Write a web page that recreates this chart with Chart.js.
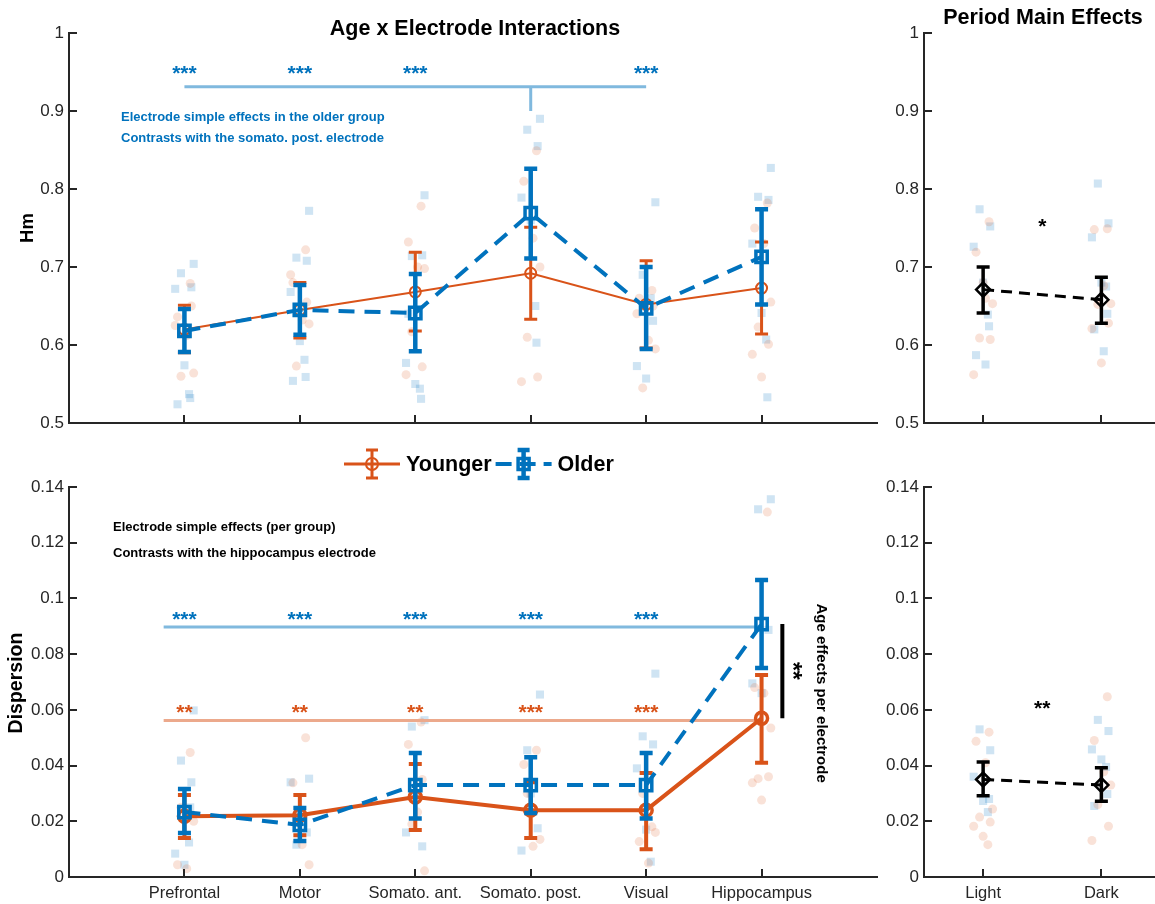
<!DOCTYPE html>
<html>
<head>
<meta charset="utf-8">
<script src="https://cdn.jsdelivr.net/npm/chart.js@4/dist/chart.umd.min.js"></script>
<style>
  html, body { margin: 0; padding: 0; background: #fff; overflow: hidden; width: 1155px; height: 904px; }
  canvas { position: absolute; }
</style>
</head>
<body>
<canvas id="hmElec" width="890" height="440" style="left:0;top:0"></canvas>
<canvas id="dispElec" width="890" height="464" style="left:0;top:440px"></canvas>
<canvas id="hmPeriod" width="290" height="440" style="left:880px;top:0"></canvas>
<canvas id="dispPeriod" width="290" height="464" style="left:880px;top:440px"></canvas>
<script>
// ── Data ────────────────────────────────────────────────────────────────
const CATS = ['Prefrontal', 'Motor', 'Somato. ant.', 'Somato. post.', 'Visual', 'Hippocampus'];
const PERIODS = ['Light', 'Dark'];
const HM_TICKS = [0.5, 0.6, 0.7, 0.8, 0.9, 1];
const DISP_TICKS = [0, 0.02, 0.04, 0.06, 0.08, 0.1, 0.12, 0.14];

// Hm, electrode x age (means and CI bounds)
const HM_YOUNG_MEAN = [0.620, 0.645, 0.668, 0.692, 0.652, 0.673];
const HM_YOUNG_HI   = [0.651, 0.680, 0.719, 0.751, 0.708, 0.732];
const HM_YOUNG_LO   = [0.590, 0.609, 0.618, 0.633, 0.596, 0.614];
const HM_OLD_MEAN   = [0.618, 0.645, 0.641, 0.769, 0.647, 0.713];
const HM_OLD_HI     = [0.646, 0.677, 0.691, 0.826, 0.700, 0.774];
const HM_OLD_LO     = [0.591, 0.613, 0.592, 0.711, 0.595, 0.652];

// Dispersion, electrode x age
const DISP_YOUNG_MEAN = [0.0218, 0.0222, 0.0287, 0.0240, 0.0240, 0.0570];
const DISP_YOUNG_HI   = [0.0294, 0.0294, 0.0406, 0.0340, 0.0373, 0.0725];
const DISP_YOUNG_LO   = [0.0140, 0.0150, 0.0169, 0.0140, 0.0100, 0.0410];
const DISP_OLD_MEAN   = [0.0233, 0.0187, 0.0330, 0.0330, 0.0330, 0.0908];
const DISP_OLD_HI     = [0.0316, 0.0248, 0.0445, 0.0430, 0.0445, 0.1066];
const DISP_OLD_LO     = [0.0158, 0.0129, 0.0210, 0.0230, 0.0210, 0.0750];

// individual animals (per electrode)
const HM_YOUNG_PTS = [
  [0.679, 0.636, 0.612, 0.564, 0.560, 0.650, 0.625],
  [0.722, 0.680, 0.632, 0.627, 0.573, 0.655, 0.690],
  [0.778, 0.732, 0.700, 0.698, 0.617, 0.572, 0.562],
  [0.849, 0.810, 0.737, 0.700, 0.610, 0.559, 0.553],
  [0.670, 0.660, 0.606, 0.595, 0.545, 0.650, 0.640],
  [0.782, 0.750, 0.730, 0.655, 0.623, 0.601, 0.588, 0.559],
];
const HM_OLD_PTS = [
  [0.704, 0.692, 0.674, 0.672, 0.574, 0.537, 0.532, 0.524, 0.620],
  [0.772, 0.712, 0.708, 0.668, 0.605, 0.581, 0.559, 0.554],
  [0.792, 0.714, 0.715, 0.577, 0.550, 0.544, 0.531, 0.640],
  [0.890, 0.876, 0.855, 0.789, 0.760, 0.650, 0.603],
  [0.783, 0.690, 0.631, 0.573, 0.557, 0.660],
  [0.827, 0.790, 0.786, 0.730, 0.641, 0.607, 0.533],
];
const DISP_YOUNG_PTS = [
  [0.0447, 0.0044, 0.0030, 0.0200, 0.0250],
  [0.0500, 0.0338, 0.0116, 0.0044, 0.0200],
  [0.0556, 0.0476, 0.0233, 0.0022, 0.0190, 0.0350],
  [0.0455, 0.0404, 0.0110, 0.0135, 0.0300],
  [0.0180, 0.0127, 0.0050, 0.0160, 0.0300],
  [0.1310, 0.0680, 0.0660, 0.0535, 0.0353, 0.0360, 0.0338, 0.0276],
];
const DISP_OLD_PTS = [
  [0.0598, 0.0418, 0.0340, 0.0084, 0.0044, 0.0124, 0.0250],
  [0.0353, 0.0116, 0.0160, 0.0340, 0.0220],
  [0.0563, 0.0540, 0.0110, 0.0160, 0.0300],
  [0.0655, 0.0455, 0.0175, 0.0095, 0.0300],
  [0.0730, 0.0505, 0.0476, 0.0390, 0.0170, 0.0055],
  [0.1356, 0.1320, 0.0887, 0.0695, 0.0660],
];

// Period main effects
const PER_HM_MEAN = [0.671, 0.658];
const PER_HM_HI   = [0.700, 0.687];
const PER_HM_LO   = [0.641, 0.628];
const PER_DISP_MEAN = [0.0350, 0.0330];
const PER_DISP_HI   = [0.0413, 0.0392];
const PER_DISP_LO   = [0.0292, 0.0272];
const PER_HM_YOUNG_PTS = [
  [0.758, 0.719, 0.660, 0.653, 0.609, 0.607, 0.562, 0.680],
  [0.749, 0.748, 0.676, 0.653, 0.652, 0.628, 0.621, 0.577],
];
const PER_HM_OLD_PTS = [
  [0.774, 0.752, 0.726, 0.680, 0.639, 0.624, 0.587, 0.575],
  [0.807, 0.756, 0.738, 0.680, 0.675, 0.640, 0.620, 0.592],
];
const PER_DISP_YOUNG_PTS = [
  [0.0520, 0.0487, 0.0410, 0.0244, 0.0215, 0.0197, 0.0182, 0.0146, 0.0116],
  [0.0647, 0.0490, 0.0378, 0.0330, 0.0260, 0.0182, 0.0131],
];
const PER_DISP_OLD_PTS = [
  [0.0530, 0.0455, 0.0360, 0.0273, 0.0233, 0.0280],
  [0.0564, 0.0524, 0.0458, 0.0422, 0.0395, 0.0298, 0.0255],
];

// significance brackets (data units)
const HM_SIG_CATS = [1, 2, 3, 5];        // *** vs somato. post.
const HM_SIG_REF = 4;
const HM_SIG_LEVEL = 0.931;
const HM_SIG_DROP = 0.900;
const HM_STAR_Y = 0.953;
const DISP_SIG_OLD_LEVEL = 0.0897;
const DISP_SIG_YOUNG_LEVEL = 0.0562;
const DISP_SIG_START = 0.82;
const DISP_OLD_STARS = ['***', '***', '***', '***', '***'];
const DISP_YOUNG_STARS = ['**', '**', '**', '***', '***'];
const DISP_OLD_STAR_Y = 0.0940;
const DISP_YOUNG_STAR_Y = 0.0607;
const AGE_BAR_X = 6.18;

// fixed spread of individual points around each category (not random)
const JITTER = [0.05, -0.06, 0.02, 0.08, -0.03, 0.06, -0.08, 0.0, 0.04];

// ── Styling ─────────────────────────────────────────────────────────────
const ORANGE = '#D95319';
const BLUE = '#0072BD';
const ORANGE_PALE = 'rgba(217,83,25,0.17)';
const BLUE_PALE = 'rgba(0,114,189,0.19)';
const SIG_BLUE = '#80B9DE';
const SIG_ORANGE = '#ECA98C';
const AXIS = '#262626';
const FONT = "'Liberation Sans', Arial, Helvetica, sans-serif";

// ── Helpers ─────────────────────────────────────────────────────────────
function jittered(groups, shift) {
  const out = [];
  groups.forEach((vals, i) => vals.forEach((v, k) => {
    out.push({ x: i + 1 + JITTER[(k + shift) % JITTER.length], y: v });
  }));
  return out;
}

function atCats(vals) {
  return vals.map((v, i) => ({ x: i + 1, y: v }));
}

function cloud(groups, color, style, radius, shift) {
  return {
    data: jittered(groups, shift),
    pointStyle: style,
    pointRadius: radius,
    backgroundColor: color,
    borderWidth: 0,
    pointBorderWidth: 0,
    showLine: false,
    order: 20,
  };
}

function series(mean, lo, hi, style) {
  return Object.assign({
    data: atCats(mean),
    showLine: true,
    errLo: lo,
    errHi: hi,
    pointBackgroundColor: 'rgba(0,0,0,0)',
  }, style);
}

function segment(points, color, width, order) {
  return {
    data: points,
    showLine: true,
    borderColor: color,
    borderWidth: width,
    pointRadius: 0,
    order,
  };
}

const YOUNG_STYLE = {
  borderColor: ORANGE, pointBorderColor: ORANGE, borderWidth: 2,
  pointStyle: 'circle', pointRadius: 5.5, pointBorderWidth: 2,
  errWidth: 3, capWidth: 13, order: 2,
};
const OLD_STYLE = {
  borderColor: BLUE, pointBorderColor: BLUE, borderWidth: 4, borderDash: [16, 10],
  pointStyle: 'rect', pointRadius: 8, pointBorderWidth: 3.5,
  errWidth: 4.5, capWidth: 13, order: 1,
};
const PERIOD_STYLE = {
  borderColor: '#000', pointBorderColor: '#000', borderWidth: 3, borderDash: [11, 7],
  pointStyle: 'rectRot', pointRadius: 7, pointBorderWidth: 2.5,
  errWidth: 3.5, capWidth: 13, order: 1,
};

// error bars drawn just before their series
const errorBars = {
  id: 'errorBars',
  beforeDatasetDraw(chart, args) {
    const ds = chart.data.datasets[args.index];
    if (!ds.errLo) return;
    const { ctx } = chart;
    const x = chart.scales.x, y = chart.scales.y;
    ctx.save();
    ctx.strokeStyle = ds.borderColor;
    ctx.lineWidth = ds.errWidth;
    ctx.setLineDash([]);
    ds.data.forEach((p, i) => {
      const px = x.getPixelForValue(p.x);
      const yl = y.getPixelForValue(ds.errLo[i]);
      const yh = y.getPixelForValue(ds.errHi[i]);
      const c = ds.capWidth / 2;
      ctx.beginPath();
      ctx.moveTo(px, yl); ctx.lineTo(px, yh);
      ctx.moveTo(px - c, yl); ctx.lineTo(px + c, yl);
      ctx.moveTo(px - c, yh); ctx.lineTo(px + c, yh);
      ctx.stroke();
    });
    ctx.restore();
  },
};

// MATLAB-style ticks pointing into the axes
const inTicks = {
  id: 'inTicks',
  afterDraw(chart) {
    const { ctx, chartArea } = chart;
    const x = chart.scales.x, y = chart.scales.y;
    ctx.save();
    ctx.strokeStyle = AXIS;
    ctx.lineWidth = 2;
    ctx.beginPath();
    x.ticks.forEach(t => {
      const px = Math.round(x.getPixelForValue(t.value));
      ctx.moveTo(px, chartArea.bottom); ctx.lineTo(px, chartArea.bottom - 8);
    });
    y.ticks.forEach(t => {
      const py = Math.round(y.getPixelForValue(t.value));
      ctx.moveTo(chartArea.left, py); ctx.lineTo(chartArea.left + 8, py);
    });
    ctx.stroke();
    ctx.restore();
  },
};

// free text: either data coords (x,y) or canvas pixels (px,py)
function notes(items) {
  return {
    id: 'notes',
    afterDraw(chart) {
      const { ctx } = chart;
      items.forEach(n => {
        let px = n.px, py = n.py;
        if (n.x !== undefined) {
          px = chart.scales.x.getPixelForValue(n.x);
          py = chart.scales.y.getPixelForValue(n.y);
        }
        ctx.save();
        ctx.translate(px, py + (n.dy || 0));
        if (n.rot) ctx.rotate(n.rot * Math.PI / 180);
        ctx.font = n.font;
        ctx.fillStyle = n.color || '#000';
        ctx.textAlign = n.align || 'center';
        ctx.textBaseline = 'middle';
        ctx.fillText(n.text, 0, 0);
        ctx.restore();
      });
    },
  };
}

// Younger / Older legend with errorbar glyphs
const LEGEND_ITEMS = [
  { label: 'Younger', color: ORANGE, dash: [], lineWidth: 3, errWidth: 3, marker: 'circle' },
  { label: 'Older', color: BLUE, dash: [16, 8], lineWidth: 4, errWidth: 4.5, marker: 'rect' },
];
const ageLegend = {
  id: 'ageLegend',
  afterDraw(chart) {
    const { ctx } = chart;
    const cy = 24;
    let x = 344;
    ctx.save();
    ctx.font = 'bold 21.5px ' + FONT;
    ctx.textBaseline = 'middle';
    LEGEND_ITEMS.forEach(it => {
      ctx.strokeStyle = it.color;
      ctx.lineWidth = it.lineWidth;
      ctx.setLineDash(it.dash);
      ctx.beginPath(); ctx.moveTo(x, cy); ctx.lineTo(x + 56, cy); ctx.stroke();
      ctx.setLineDash([]);
      const mx = x + 28;
      ctx.lineWidth = it.errWidth;
      ctx.beginPath();
      ctx.moveTo(mx, cy - 14); ctx.lineTo(mx, cy + 14);
      ctx.moveTo(mx - 6, cy - 14); ctx.lineTo(mx + 6, cy - 14);
      ctx.moveTo(mx - 6, cy + 14); ctx.lineTo(mx + 6, cy + 14);
      ctx.stroke();
      if (it.marker === 'circle') {
        ctx.lineWidth = 2;
        ctx.beginPath(); ctx.arc(mx, cy, 6, 0, Math.PI * 2); ctx.stroke();
      } else {
        ctx.lineWidth = 3.5;
        ctx.strokeRect(mx - 5.5, cy - 5.5, 11, 11);
      }
      ctx.fillStyle = '#000';
      ctx.fillText(it.label, x + 62, cy + 1);
      x += 62 + ctx.measureText(it.label).width + 4;
    });
    ctx.restore();
  },
};

function xScale(labels, min, max, height, show) {
  return {
    type: 'linear', min, max,
    afterBuildTicks: s => { s.ticks = labels.map((c, i) => ({ value: i + 1 })); },
    afterFit: s => { s.height = height; },
    grid: { display: false, drawTicks: false },
    border: { display: true, color: AXIS, width: 2 },
    ticks: {
      display: show, autoSkip: false, maxRotation: 0, padding: 7,
      color: AXIS, font: { family: FONT, size: 16.5 },
      callback: v => labels[Math.round(v) - 1],
    },
  };
}

function yScale(ticks, width) {
  return {
    type: 'linear', min: ticks[0], max: ticks[ticks.length - 1],
    afterBuildTicks: s => { s.ticks = ticks.map(v => ({ value: v })); },
    afterFit: s => { s.width = width; },
    grid: { display: false, drawTicks: false },
    border: { display: true, color: AXIS, width: 2 },
    ticks: {
      padding: 5, color: AXIS, font: { family: FONT, size: 17 },
      callback: v => String(+v.toFixed(2)),
    },
  };
}

function makeChart(id, datasets, scales, padding, extra) {
  datasets.forEach(d => { d.clip = false; });
  return new Chart(document.getElementById(id), {
    type: 'scatter',
    data: { datasets },
    options: {
      responsive: false,
      animation: false,
      devicePixelRatio: 1,
      events: [],
      layout: { padding },
      plugins: { legend: { display: false }, tooltip: { enabled: false } },
      scales,
    },
    plugins: [errorBars, inTicks].concat(extra),
  });
}

const BOLD = s => 'bold ' + s + 'px ' + FONT;

// ── Top-left: Hm, Age x Electrode ───────────────────────────────────────
makeChart('hmElec', [
  cloud(HM_YOUNG_PTS, ORANGE_PALE, 'circle', 4.5, 0),
  cloud(HM_OLD_PTS, BLUE_PALE, 'rect', 5.7, 3),
  segment([{ x: HM_SIG_CATS[0], y: HM_SIG_LEVEL }, { x: HM_SIG_CATS[HM_SIG_CATS.length - 1], y: HM_SIG_LEVEL }], SIG_BLUE, 3, 8),
  segment([{ x: HM_SIG_REF, y: HM_SIG_LEVEL }, { x: HM_SIG_REF, y: HM_SIG_DROP }], SIG_BLUE, 3, 8),
  series(HM_YOUNG_MEAN, HM_YOUNG_LO, HM_YOUNG_HI, YOUNG_STYLE),
  series(HM_OLD_MEAN, HM_OLD_LO, HM_OLD_HI, OLD_STYLE),
], {
  x: xScale(CATS, 0, 7, 17, false),
  y: yScale(HM_TICKS, 69),
}, { top: 33, right: 13, left: 0, bottom: 0 }, [notes([
  { px: 475, py: 29, text: 'Age x Electrode Interactions', font: BOLD(21.5) },
  { px: 28, py: 228, text: 'Hm', font: BOLD(18.5), rot: -90 },
  { px: 121, py: 117, text: 'Electrode simple effects in the older group', font: BOLD(13), color: BLUE, align: 'left' },
  { px: 121, py: 138, text: 'Contrasts with the somato. post. electrode', font: BOLD(13), color: BLUE, align: 'left' },
].concat(HM_SIG_CATS.map(c => ({ x: c, y: HM_STAR_Y, dy: 5, text: '***', font: BOLD(21), color: BLUE }))))]);

// ── Bottom-left: Dispersion, Age x Electrode ────────────────────────────
makeChart('dispElec', [
  cloud(DISP_YOUNG_PTS, ORANGE_PALE, 'circle', 4.5, 0),
  cloud(DISP_OLD_PTS, BLUE_PALE, 'rect', 5.7, 3),
  segment([{ x: DISP_SIG_START, y: DISP_SIG_OLD_LEVEL }, { x: CATS.length, y: DISP_SIG_OLD_LEVEL }], SIG_BLUE, 3, 8),
  segment([{ x: DISP_SIG_START, y: DISP_SIG_YOUNG_LEVEL }, { x: CATS.length, y: DISP_SIG_YOUNG_LEVEL }], SIG_ORANGE, 3, 8),
  segment([{ x: AGE_BAR_X, y: DISP_OLD_MEAN[5] }, { x: AGE_BAR_X, y: DISP_YOUNG_MEAN[5] }], '#000', 4, 8),
  series(DISP_YOUNG_MEAN, DISP_YOUNG_LO, DISP_YOUNG_HI, Object.assign({}, YOUNG_STYLE, { borderWidth: 4, pointRadius: 6, pointBorderWidth: 3.5, errWidth: 4 })),
  series(DISP_OLD_MEAN, DISP_OLD_LO, DISP_OLD_HI, OLD_STYLE),
], {
  x: xScale(CATS, 0, 7, 27, true),
  y: yScale(DISP_TICKS, 69),
}, { top: 47, right: 13, left: 0, bottom: 0 }, [ageLegend, notes([
  { px: 17, py: 243, text: 'Dispersion', font: BOLD(19.5), rot: -90 },
  { px: 113, py: 87, text: 'Electrode simple effects (per group)', font: BOLD(13), align: 'left' },
  { px: 113, py: 113, text: 'Contrasts with the hippocampus electrode', font: BOLD(13), align: 'left' },
  { x: 6.26, y: 0.0740, text: '**', font: BOLD(23), rot: 90 },
  { x: 6.52, y: 0.0660, text: 'Age effects per electrode', font: BOLD(15), rot: 90 },
].concat(DISP_OLD_STARS.map((s, i) => ({ x: i + 1, y: DISP_OLD_STAR_Y, dy: 5, text: s, font: BOLD(21), color: BLUE })))
 .concat(DISP_YOUNG_STARS.map((s, i) => ({ x: i + 1, y: DISP_YOUNG_STAR_Y, dy: 5, text: s, font: BOLD(21), color: ORANGE }))))]);

// ── Top-right: Hm, period ───────────────────────────────────────────────
makeChart('hmPeriod', [
  cloud(PER_HM_YOUNG_PTS, ORANGE_PALE, 'circle', 4.5, 0),
  cloud(PER_HM_OLD_PTS, BLUE_PALE, 'rect', 5.7, 4),
  series(PER_HM_MEAN, PER_HM_LO, PER_HM_HI, PERIOD_STYLE),
], {
  x: xScale(PERIODS, 0.5, 2.5, 17, false),
  y: yScale(HM_TICKS, 44),
}, { top: 33, right: 7.5, left: 0, bottom: 0 }, [notes([
  { px: 163, py: 18, text: 'Period Main Effects', font: BOLD(21.5) },
  { x: 1.5, y: 0.757, dy: 5, text: '*', font: BOLD(21) },
])]);

// ── Bottom-right: Dispersion, period ────────────────────────────────────
makeChart('dispPeriod', [
  cloud(PER_DISP_YOUNG_PTS, ORANGE_PALE, 'circle', 4.5, 0),
  cloud(PER_DISP_OLD_PTS, BLUE_PALE, 'rect', 5.7, 4),
  series(PER_DISP_MEAN, PER_DISP_LO, PER_DISP_HI, PERIOD_STYLE),
], {
  x: xScale(PERIODS, 0.5, 2.5, 27, true),
  y: yScale(DISP_TICKS, 44),
}, { top: 47, right: 7.5, left: 0, bottom: 0 }, [notes([
  { x: 1.5, y: 0.062, dy: 5, text: '**', font: BOLD(21) },
])]);
</script>
</body>
</html>
